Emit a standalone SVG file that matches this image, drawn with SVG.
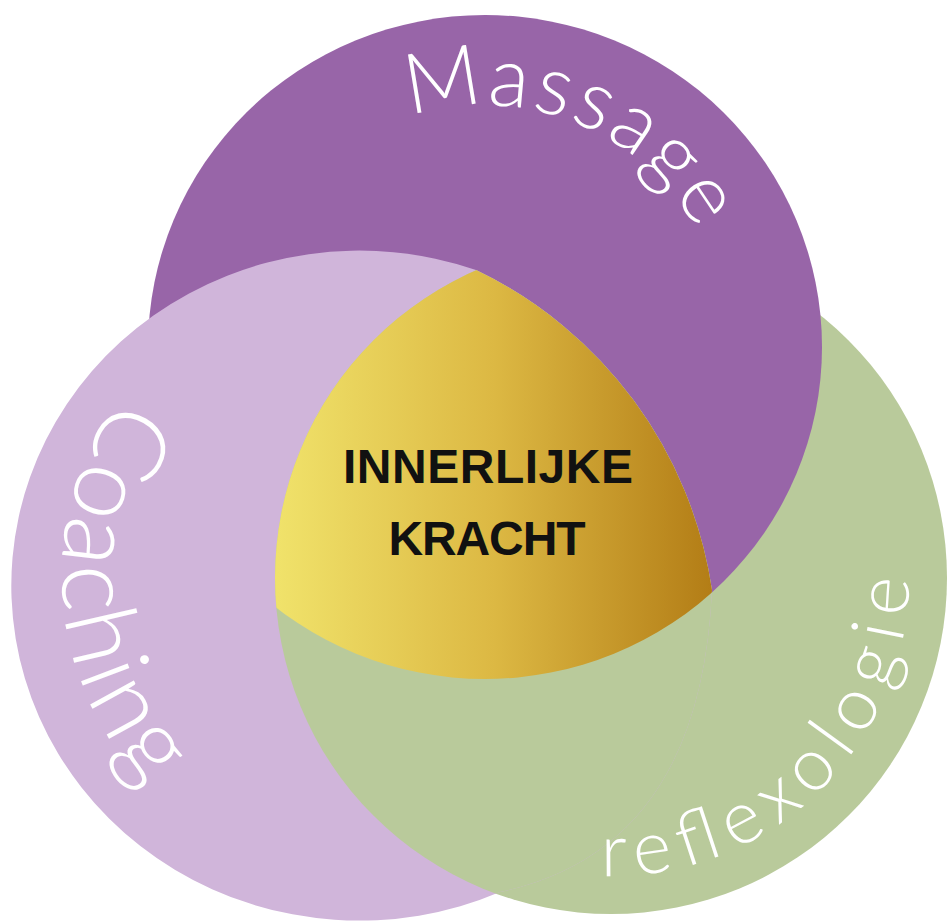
<svg xmlns="http://www.w3.org/2000/svg" xmlns:xlink="http://www.w3.org/1999/xlink" width="949" height="923" viewBox="0 0 949 923">
  <style>
    .lbl { font-family: Lato, "Open Sans", "Liberation Sans", sans-serif; font-weight: 300; fill: #ffffff; }
    .ctr { font-family: "Liberation Sans", Arial, sans-serif; font-weight: 700; fill: #111111; font-size: 48px; text-anchor: middle; }
    .purple { fill: #9865a8; }
    .lilac { fill: #d0b5da; }
    .green { fill: #b9ca9b; }
  </style>
  <defs>
    <linearGradient id="gold" gradientUnits="userSpaceOnUse" x1="278" y1="0" x2="712" y2="0">
      <stop offset="0" stop-color="#f0e26a"/>
      <stop offset="0.5" stop-color="#dcb843"/>
      <stop offset="1" stop-color="#b37d16"/>
    </linearGradient>
    <clipPath id="cpP"><ellipse cx="485" cy="347" rx="337" ry="332"/></clipPath>
    <clipPath id="cpG"><circle cx="611" cy="578" r="336"/></clipPath>
    <clipPath id="cpL"><path d="M500 892 A348 335 0 1 1 476 270 A424 424 0 0 1 712 590 Q700 850 500 892 Z"/></clipPath>
    <path id="arcMassage" d="M278.7 220.6 A242 242 0 0 1 722.1 395.3"/>
    <path id="arcCoaching" d="M266 287.9 A304 304 0 0 0 309 873.6"/>
    <path id="arcReflex" d="M435.8 819.1 A298 298 0 0 0 858.1 411.4"/>
  </defs>
  <rect width="949" height="923" fill="#ffffff"/>

  <g id="node-reflexologie-base">
    <circle class="green" cx="611" cy="578" r="336"/>
  </g>

  <g id="node-massage">
    <ellipse class="purple" cx="485" cy="347" rx="337" ry="332"/>
    <text class="lbl" font-size="84"><textPath href="#arcMassage" startOffset="50%" text-anchor="middle" textLength="335" lengthAdjust="spacing">Massage</textPath></text>
  </g>

  <g id="node-coaching">
    <path class="lilac" d="M500 892 A348 335 0 1 1 476 270 A424 424 0 0 1 712 590 Q700 850 500 892 Z"/>
    <text class="lbl" font-size="100"><textPath href="#arcCoaching" startOffset="50%" text-anchor="middle" textLength="425" lengthAdjust="spacing">Coaching</textPath></text>
  </g>

  <g id="node-reflexologie">
    <circle class="green" cx="611" cy="578" r="336" clip-path="url(#cpL)"/>
    <text class="lbl" font-size="74"><textPath href="#arcReflex" startOffset="50%" text-anchor="middle" textLength="478" lengthAdjust="spacing">reflexologie</textPath></text>
  </g>

  <g id="node-innerlijke-kracht">
    <g clip-path="url(#cpP)">
      <g clip-path="url(#cpG)">
        <path fill="url(#gold)" d="M500 892 A348 335 0 1 1 476 270 A424 424 0 0 1 712 590 Q700 850 500 892 Z"/>
      </g>
    </g>
    <text class="ctr" x="488" y="483" textLength="290" lengthAdjust="spacing">INNERLIJKE</text>
    <text class="ctr" x="487" y="555" textLength="197" lengthAdjust="spacing">KRACHT</text>
  </g>

  <g id="connectors"/>
</svg>
